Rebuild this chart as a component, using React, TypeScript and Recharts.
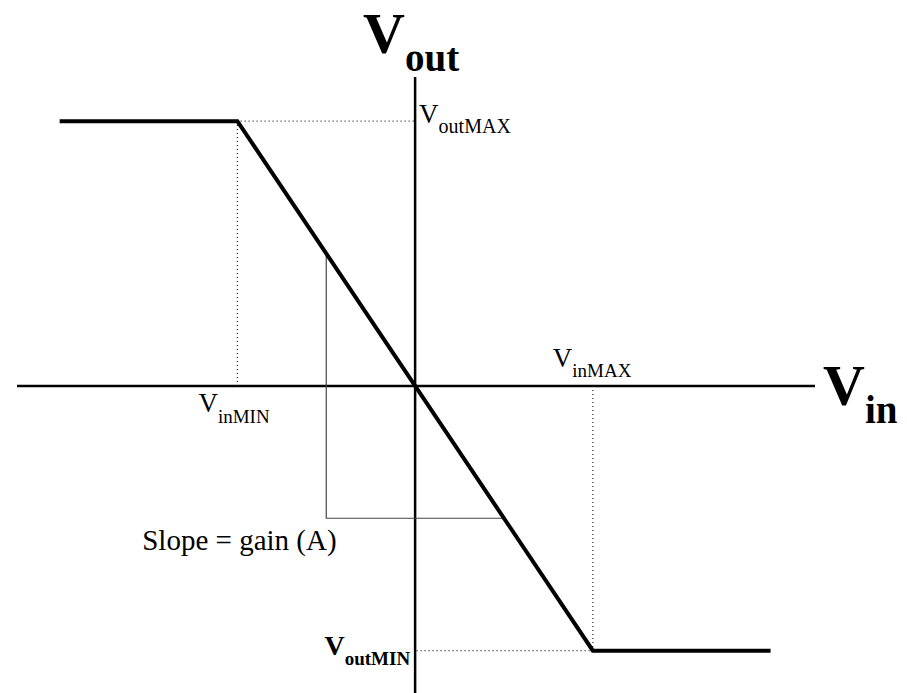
import { ComposedChart, Line, XAxis, YAxis, ReferenceLine, ReferenceDot } from 'recharts'

// transfer curve: Vout = A * Vin, clipped at the rails
const vinLimits = [-5, 5]
const voutLimits = [7.5, -7.5]
const transferCurve = [
  { x: -10, y: 7.5 },
  { x: -5, y: 7.5 },
  { x: 0, y: 0 },
  { x: 5, y: -7.5 },
  { x: 10, y: -7.5 },
]
// slope triangle
const slopeGuide = [
  { x: -2.5, y: 3.75 },
  { x: -2.5, y: -3.75 },
  { x: 2.5, y: -3.75 },
]
const guideMinLeft = [
  { x: -5, y: 0 },
  { x: -5, y: 7.5 },
  { x: 0, y: 7.5 },
]
const guideMaxRight = [
  { x: 5, y: 0 },
  { x: 5, y: -7.5 },
  { x: 0, y: -7.5 },
]

const font = '"Liberation Serif", "Times New Roman", serif'

function SubLabel({ cx, cy, dx, dy, main, sub, size, subSize, subDrop, bold, anchor }: any) {
  return (
    <text
      x={cx + dx}
      y={cy + dy}
      fontFamily={font}
      fontWeight={bold ? 'bold' : 'normal'}
      fontSize={size}
      fill="#000"
      textAnchor={anchor || 'start'}
    >
      <tspan>{main}</tspan>
      <tspan dy={subDrop} fontSize={subSize}>{sub}</tspan>
    </text>
  )
}

export default function App() {
  return (
    <div style={{ position: 'absolute', left: 0, top: 0, background: '#fff' }}>
      <ComposedChart width={907} height={693} margin={{ top: 77, right: 92, bottom: 0, left: 17 }}>
        <XAxis type="number" dataKey="x" domain={[-11.2, 11.25]} hide allowDataOverflow />
        <YAxis type="number" dataKey="y" domain={[-8.7, 8.75]} hide allowDataOverflow />

        <ReferenceLine y={0} stroke="#000" strokeWidth={2.5} />
        <ReferenceLine x={0} stroke="#000" strokeWidth={2.5} />

        <Line data={guideMinLeft} dataKey="y" stroke="#222" strokeWidth={1.2} strokeDasharray="1 3"
          dot={false} isAnimationActive={false} />
        <Line data={guideMaxRight} dataKey="y" stroke="#222" strokeWidth={1.2} strokeDasharray="1 3"
          dot={false} isAnimationActive={false} />
        <Line data={slopeGuide} dataKey="y" stroke="#444" strokeWidth={1.2}
          dot={false} isAnimationActive={false} />
        <Line data={transferCurve} dataKey="y" stroke="#000" strokeWidth={4} strokeLinejoin="miter"
          dot={false} isAnimationActive={false} />

        <ReferenceDot x={0} y={8.75} r={0} ifOverflow="visible"
          shape={(p: any) => <SubLabel {...p} dx={-52} dy={-24} main="V" sub="out" size={58} subSize={39} subDrop={18} bold />} />
        <ReferenceDot x={11.25} y={0} r={0} ifOverflow="visible"
          shape={(p: any) => <SubLabel {...p} dx={8} dy={19} main="V" sub="in" size={58} subSize={39} subDrop={18} bold />} />
        <ReferenceDot x={0} y={voutLimits[0]} r={0} ifOverflow="visible"
          shape={(p: any) => <SubLabel {...p} dx={4} dy={2} main="V" sub="outMAX" size={27} subSize={20} subDrop={10} />} />
        <ReferenceDot x={vinLimits[0]} y={0} r={0} ifOverflow="visible"
          shape={(p: any) => <SubLabel {...p} dx={-39} dy={26} main="V" sub="inMIN" size={27} subSize={19} subDrop={11} />} />
        <ReferenceDot x={vinLimits[1]} y={0} r={0} ifOverflow="visible"
          shape={(p: any) => <SubLabel {...p} dx={-40} dy={-19} main="V" sub="inMAX" size={27} subSize={19} subDrop={10} />} />
        <ReferenceDot x={0} y={voutLimits[1]} r={0} ifOverflow="visible"
          shape={(p: any) => <SubLabel {...p} dx={-5} dy={4} main="V" sub="outMIN" size={28} subSize={19} subDrop={10} bold anchor="end" />} />
        <ReferenceDot x={-2.5} y={-3.75} r={0} ifOverflow="visible"
          shape={(p: any) => (
            <text x={p.cx - 184} y={p.cy + 32} fontFamily={font} fontSize={29} fill="#000">
              Slope = gain (A)
            </text>
          )} />
      </ComposedChart>
    </div>
  )
}
